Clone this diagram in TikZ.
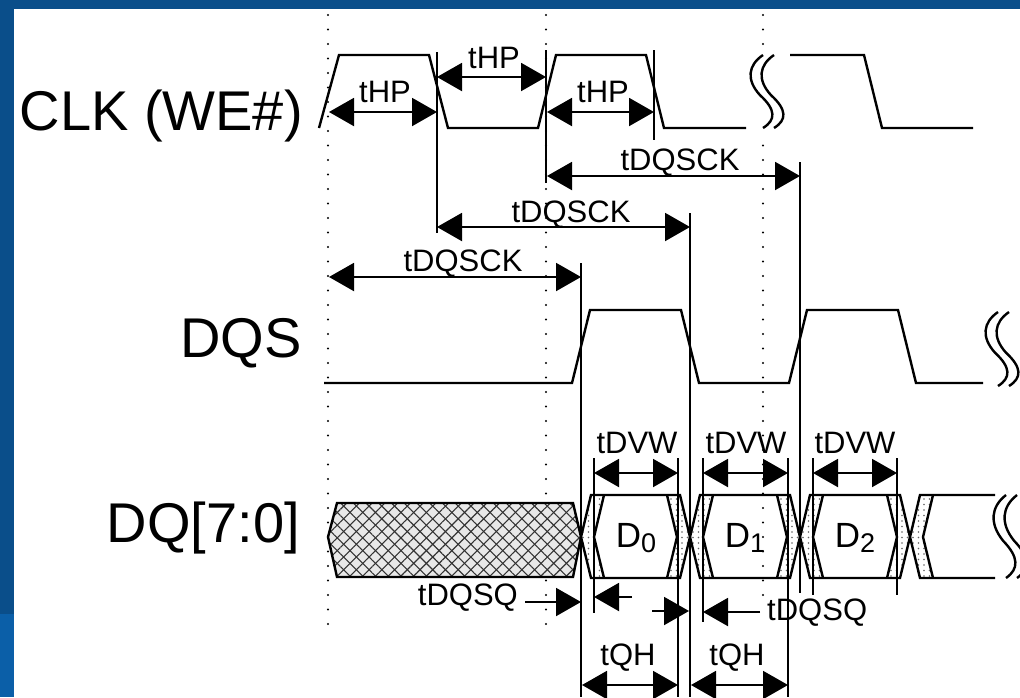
\documentclass[tikz,border=0pt]{standalone}
\usepackage{fontspec}
\setmainfont{Liberation Sans}
\usetikzlibrary{arrows.meta,patterns.meta}
\definecolor{barblue}{HTML}{0A4E8A}
\definecolor{barbluelow}{HTML}{0B5FA8}
\tikzset{
  wave/.style={line width=2.4pt,line join=miter},
  edgeline/.style={line width=2pt},
  tickline/.style={line width=1.4pt},
  dimarr/.style={line width=2pt,{Triangle[length=25pt,width=28pt]}-{Triangle[length=25pt,width=28pt]}},
  onearr/.style={line width=2pt,-{Triangle[length=25pt,width=28pt]}},
  dotv/.style={line width=2.4pt,line cap=round,dash pattern=on 0pt off 14.5pt},
  lbl/.style={inner sep=0pt,font=\fontsize{31}{31}\selectfont},
  biglbl/.style={inner sep=0pt,font=\fontsize{56}{56}\selectfont},
  brk/.style={line width=2.4pt},
  band/.style={pattern={Dots[distance=5.5pt,radius=0.9pt]},pattern color=gray!80!black},
  eye/.style={line width=2.4pt,line join=miter},
}
\newcommand\brkcurve[3]{%
  \draw[brk] ({#1+13},{#2}) .. controls ({#1-2},{#2+0.14*#3}) and ({#1-4},{#2+0.34*#3}) .. ({#1+10},{#2+0.55*#3}) .. controls ({#1+26},{#2+0.75*#3}) and ({#1+26},{#2+0.89*#3}) .. ({#1+13},{#2+#3});}
\begin{document}
\begin{tikzpicture}[x=1pt,y=-1pt]
\useasboundingbox (0,0) rectangle (1020,697);
\fill[white] (0,0) rectangle (1020,697);
\fill[barblue] (0,0) rectangle (1020,9);
\fill[barblue] (0,0) rectangle (14,614);
\fill[barbluelow] (0,614) rectangle (14,697);

% signal names
\node[biglbl,anchor=base east] (clk) at (303,130) {CLK (WE\#)};
\node[biglbl,anchor=base east] (dqs) at (302,357) {DQS};
\node[biglbl,anchor=base east] (dq) at (300,542) {DQ[7:0]};

% dotted reference lines
\draw[dotv] (328,15) -- (328,625);
\draw[dotv] (546,15) -- (546,625);
\draw[dotv] (763,15) -- (763,45);
\draw[dotv] (763,145.5) -- (763,597);

% CLK waveform
\draw[wave] (319,128) -- (339,55) -- (429,55) -- (448,128) -- (538,128) -- (556,55) -- (646,55) -- (664,128) -- (746,128);
\draw[wave] (790,55) -- (864,55) -- (882,128) -- (973,128);
\brkcurve{750}{55}{73}
\brkcurve{761}{55}{73}

% DQS waveform
\draw[wave] (324,383) -- (572,383) -- (590,310) -- (681,310) -- (699,383) -- (789,383) -- (807,310) -- (898,310) -- (916,383) -- (983,383);
\brkcurve{985}{312}{74}
\brkcurve{996}{312}{74}

% timing reference lines
\coordinate (e1t) at (437,52);  \coordinate (e1b) at (437,233);
\coordinate (e2t) at (546,50);  \coordinate (e2b) at (546,183);
\coordinate (e3t) at (654,50);  \coordinate (e3b) at (654,140);
\coordinate (d1t) at (800,162); \coordinate (d1b) at (800,593);
\coordinate (d2t) at (690,213); \coordinate (d2b) at (690,697);
\coordinate (d3t) at (581,263); \coordinate (d3b) at (581,697);
\draw[edgeline] (e1t) -- (e1b);
\draw[edgeline] (e2t) -- (e2b);
\draw[edgeline] (e3t) -- (e3b);
\draw[edgeline] (d1t) -- (d1b);
\draw[edgeline] (d2t) -- (d2b);
\draw[edgeline] (d3t) -- (d3b);

% tHP
\draw[dimarr] (329,112) -- (437,112);
\draw[dimarr] (437,77) -- (546,77);
\draw[dimarr] (547,112) -- (654,112);
\node[lbl,anchor=base] (thp1) at (385,102) {tHP};
\node[lbl,anchor=base] (thp2) at (494,68) {tHP};
\node[lbl,anchor=base] (thp3) at (603,102) {tHP};

% tDQSCK
\draw[dimarr] (547,176) -- (800,176);
\draw[dimarr] (437,227) -- (690,227);
\draw[dimarr] (329,277) -- (581,277);
\node[lbl,anchor=base] (ck1) at (680,170) {tDQSCK};
\node[lbl,anchor=base] (ck2) at (571,222) {tDQSCK};
\node[lbl,anchor=base] (ck3) at (463,271) {tDQSCK};

% DQ: hatched invalid block
\draw[eye,preaction={fill=gray!18},preaction={pattern={Lines[angle=45,distance=9pt,line width=1.1pt]},pattern color=black!80},preaction={pattern={Lines[angle=-45,distance=9pt,line width=1.1pt]},pattern color=black!80}]
  (337,503) -- (573,503) -- (581,537) -- (573,577) -- (337,577) -- (328,537) -- cycle;

% dotted skew bands
\foreach \c in {581,690,800,910}{
  \fill[band] (\c,537) -- ({\c+10},495) -- ({\c+23},495) -- ({\c+13},537) -- ({\c+23},578) -- ({\c+10},578) -- cycle;
}
\foreach \c in {690,800,910}{
  \fill[band] (\c,537) -- ({\c-10},495) -- ({\c-23},495) -- ({\c-13},537) -- ({\c-23},578) -- ({\c-10},578) -- cycle;
}
% data eyes
\foreach \a/\b in {581/690,690/800,800/910}{
  \draw[eye] (\a,537) -- ({\a+10},495) -- ({\b-10},495) -- (\b,537) -- ({\b-10},578) -- ({\a+10},578) -- cycle;
  \draw[eye] ({\a+23},495) -- ({\a+13},537) -- ({\a+23},578);
  \draw[eye] ({\b-23},495) -- ({\b-13},537) -- ({\b-23},578);
}
\draw[eye] (995,495) -- (920,495) -- (910,537) -- (920,578) -- (995,578);
\draw[eye] (933,495) -- (923,537) -- (933,578);
\brkcurve{993}{495}{83}
\brkcurve{1004}{495}{83}

\node[anchor=base,inner sep=0pt] (d0) at (636,547) {\fontsize{35}{35}\selectfont D\raisebox{-5pt}{\fontsize{27}{27}\selectfont 0}};
\node[anchor=base,inner sep=0pt] (d1) at (745,547) {\fontsize{35}{35}\selectfont D\raisebox{-5pt}{\fontsize{27}{27}\selectfont 1}};
\node[anchor=base,inner sep=0pt] (d2) at (855,547) {\fontsize{35}{35}\selectfont D\raisebox{-5pt}{\fontsize{27}{27}\selectfont 2}};

% valid window ticks
\draw[tickline] (594,458) -- (594,613);
\draw[tickline] (678,458) -- (678,697);
\draw[tickline] (703,458) -- (703,622);
\draw[tickline] (788,458) -- (788,697);
\draw[tickline] (813,458) -- (813,595);
\draw[tickline] (897,458) -- (897,595);

% tDVW
\draw[dimarr] (594,473) -- (678,473);
\draw[dimarr] (703,473) -- (788,473);
\draw[dimarr] (813,473) -- (897,473);
\node[lbl,anchor=base] (dvw1) at (637,453) {tDVW};
\node[lbl,anchor=base] (dvw2) at (746,453) {tDVW};
\node[lbl,anchor=base] (dvw3) at (855,453) {tDVW};

% tDQSQ
\node[lbl,anchor=base east] (sq1) at (518,605) {tDQSQ};
\draw[onearr] (525,602) -- (581,602);
\draw[onearr] (632,597) -- (594,597);
\draw[onearr] (652,611) -- (689,611);
\draw[onearr] (760,612) -- (703,612);
\node[lbl,anchor=base west] (sq2) at (767,620) {tDQSQ};

% tQH
\draw[dimarr] (582,685) -- (678,685);
\draw[dimarr] (691,685) -- (788,685);
\node[lbl,anchor=base] (qh1) at (628,665) {tQH};
\node[lbl,anchor=base] (qh2) at (737,665) {tQH};
\end{tikzpicture}
\end{document}
